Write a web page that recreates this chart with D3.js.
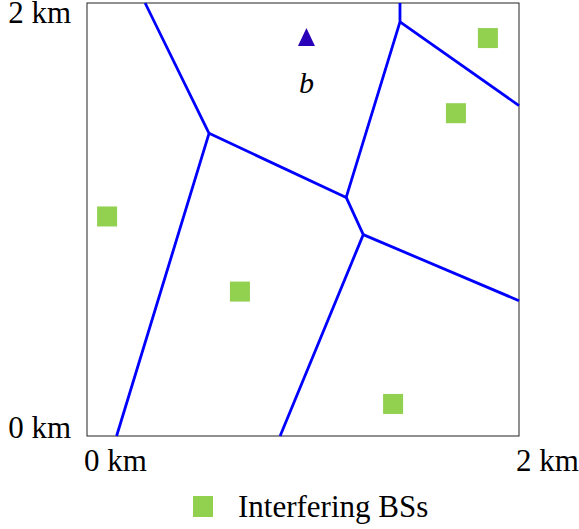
<!DOCTYPE html>
<html>
<head>
<meta charset="utf-8">
<script src="https://cdn.jsdelivr.net/npm/d3@7"></script>
<style>
  body { margin: 0; background: #fff; }
  svg { display: block; }
</style>
</head>
<body>
<div id="chart"></div>
<script>
// interfering base stations, km
const bsX = [1.856, 1.708, 0.093, 0.708, 1.417];
const bsY = [1.838, 1.491, 1.014, 0.667, 0.148];

// serving base station b
const servingX = [1.016];
const servingY = [1.834];
const servingLabel = ["b"];

// cell boundaries as polylines, km
const edge1 = [[0.269, 2.0], [0.565, 1.398], [0.137, 0]];
const edge2 = [[0.565, 1.398], [1.2, 1.102], [1.449, 1.913], [1.449, 2.0]];
const edge3 = [[1.449, 1.913], [2.0, 1.526]];
const edge4 = [[1.2, 1.102], [1.279, 0.93], [0.894, 0]];
const edge5 = [[1.279, 0.93], [2.0, 0.625]];
const cellEdges = [edge1, edge2, edge3, edge4, edge5];

const tickValues = [0, 2];
const tickLabels = ["0 km", "2 km"];
const legendLabel = "Interfering BSs";

const width = 579, height = 529;
const plotLeft = 87, plotRight = 519, plotTop = 3, plotBottom = 436;
const serif = "'Liberation Serif', 'DejaVu Serif', serif";

const x = d3.scaleLinear().domain([0, 2]).range([plotLeft, plotRight]);
const y = d3.scaleLinear().domain([0, 2]).range([plotBottom, plotTop]);

const svg = d3.select("#chart").append("svg")
  .attr("width", width)
  .attr("height", height)
  .style("font-family", serif);

svg.append("rect")
  .attr("x", plotLeft)
  .attr("y", plotTop)
  .attr("width", plotRight - plotLeft)
  .attr("height", plotBottom - plotTop)
  .attr("fill", "none")
  .attr("stroke", "#222")
  .attr("stroke-width", 1);

const line = d3.line().x(d => x(d[0])).y(d => y(d[1]));

svg.append("g").selectAll("path")
  .data(cellEdges).enter().append("path")
  .attr("d", line)
  .attr("fill", "none")
  .attr("stroke", "#0000ff")
  .attr("stroke-width", 2.8)
  .attr("stroke-linejoin", "round");

const sq = 20;
svg.append("g").selectAll("rect")
  .data(bsX).enter().append("rect")
  .attr("x", (d, i) => x(d) - sq / 2)
  .attr("y", (d, i) => y(bsY[i]) - sq / 2)
  .attr("width", sq)
  .attr("height", sq)
  .attr("fill", "#92d050");

// triangle marker, a bit taller than wide
svg.append("g").selectAll("path")
  .data(servingX).enter().append("path")
  .attr("d", "M0,-11L8.5,7L-8.5,7Z")
  .attr("transform", (d, i) => "translate(" + x(d) + "," + y(servingY[i]) + ")")
  .attr("fill", "#2a00b8");

svg.append("g").selectAll("text")
  .data(servingLabel).enter().append("text")
  .attr("x", (d, i) => x(servingX[i]))
  .attr("y", (d, i) => y(servingY[i]) + 54)
  .attr("text-anchor", "middle")
  .attr("font-style", "italic")
  .attr("font-size", 30)
  .text(d => d);

// axis labels
svg.append("g").selectAll("text")
  .data(tickValues).enter().append("text")
  .attr("x", d => x(d) - 3)
  .attr("y", 471)
  .attr("font-size", 31)
  .text((d, i) => tickLabels[i]);

svg.append("g").selectAll("text")
  .data(tickValues).enter().append("text")
  .attr("x", 71)
  .attr("y", d => d === 0 ? y(d) + 2 : y(d) + 20)
  .attr("text-anchor", "end")
  .attr("font-size", 31)
  .text((d, i) => tickLabels[i]);

// legend
svg.append("rect")
  .attr("x", 193)
  .attr("y", 496)
  .attr("width", 20)
  .attr("height", 21)
  .attr("fill", "#92d050");

svg.append("text")
  .attr("x", 238)
  .attr("y", 517)
  .attr("font-size", 31)
  .text(legendLabel);
</script>
</body>
</html>
